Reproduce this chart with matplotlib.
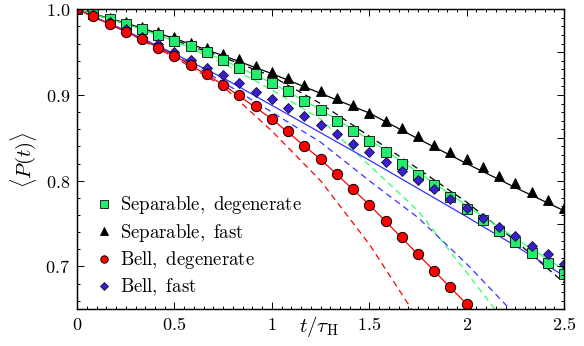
import numpy as np
import matplotlib
matplotlib.use("Agg")
import matplotlib.pyplot as plt
from matplotlib.ticker import MultipleLocator, FixedLocator, FixedFormatter

plt.rcParams["mathtext.fontset"] = "cm"
plt.rcParams["mathtext.rm"] = "serif"

# marker times t/tau_H = k/12
t_pts = np.arange(31) / 12.0

sep_deg = [1.000, 0.996, 0.989, 0.983, 0.977, 0.970, 0.963, 0.957, 0.950, 0.941,
           0.932, 0.924, 0.914, 0.905, 0.893, 0.882, 0.870, 0.858, 0.846, 0.833,
           0.820, 0.807, 0.795, 0.781, 0.767, 0.754, 0.741, 0.729, 0.716, 0.704, 0.691]
sep_fast = [1.000, 0.995, 0.990, 0.985, 0.979, 0.974, 0.968, 0.961, 0.955, 0.948,
            0.942, 0.934, 0.927, 0.920, 0.912, 0.905, 0.896, 0.888, 0.879, 0.870,
            0.862, 0.852, 0.842, 0.834, 0.825, 0.816, 0.806, 0.797, 0.787, 0.778, 0.768]
bell_deg = [1.000, 0.992, 0.983, 0.974, 0.965, 0.955, 0.946, 0.935, 0.924, 0.912,
            0.900, 0.887, 0.872, 0.858, 0.841, 0.825, 0.808, 0.790, 0.772, 0.753,
            0.734, 0.714, 0.695, 0.676, 0.656]
bell_fast = [1.000, 0.993, 0.985, 0.977, 0.968, 0.959, 0.950, 0.941, 0.932, 0.923,
             0.914, 0.904, 0.895, 0.885, 0.875, 0.865, 0.854, 0.843, 0.833, 0.822,
             0.811, 0.801, 0.790, 0.779, 0.768, 0.757, 0.746, 0.735, 0.724, 0.714, 0.703]

# theory curves (solid) read at nodes
t_line = [0.0, 0.25, 0.5, 0.75, 1.0, 1.25, 1.5, 1.75, 2.0, 2.25, 2.5]
sep_deg_line = [1.0, 0.983, 0.963, 0.941, 0.914, 0.883, 0.848, 0.810, 0.771, 0.733, 0.696]
sep_fast_line = [1.0, 0.984, 0.966, 0.946, 0.925, 0.902, 0.879, 0.849, 0.820, 0.792, 0.765]
bell_fast_line = [1.0, 0.975, 0.948, 0.920, 0.888, 0.856, 0.824, 0.791, 0.758, 0.724, 0.689]
t_bell_line = [0.0, 0.25, 0.5, 0.75, 1.0, 1.25, 1.5, 1.75, 2.0, 2.05]
bell_deg_line = [1.0, 0.974, 0.946, 0.912, 0.872, 0.825, 0.772, 0.714, 0.656, 0.644]

# approximate curves (dashed)
sep_fast_dash = [1.0, 0.983, 0.964, 0.944, 0.922, 0.890, 0.852, 0.814, 0.775, 0.730, 0.681]
t_sd_dash = [0.0, 0.25, 0.5, 0.75, 1.0, 1.25, 1.5, 1.75, 2.0, 2.145]
sep_deg_dash = [1.0, 0.984, 0.963, 0.937, 0.906, 0.872, 0.818, 0.765, 0.693, 0.650]
t_bf_dash = [0.0, 0.25, 0.5, 0.75, 1.0, 1.25, 1.5, 1.75, 2.0, 2.214]
bell_fast_dash = [1.0, 0.975, 0.947, 0.915, 0.880, 0.845, 0.800, 0.757, 0.703, 0.652]
t_bd_dash = [0.0, 0.25, 0.5, 0.75, 1.0, 1.25, 1.5, 1.717]
bell_deg_dash = [1.0, 0.974, 0.944, 0.910, 0.858, 0.800, 0.726, 0.650]

labels = ["Separable, degenerate", "Separable, fast", "Bell, degenerate", "Bell, fast"]
x_ticks = [0, 0.5, 1, 1.5, 2, 2.5]
x_ticklabels = ["0", "0.5", "1", "1.5", "2", "2.5"]
y_ticks = [0.7, 0.8, 0.9, 1.0]
y_ticklabels = ["0.7", "0.8", "0.9", "1.0"]


def rm(s):
    return r"$\mathrm{" + s.replace(" ", r"\ ") + "}$"


green_fill = "#22ee6e"
green_line = "#33ff66"
blue_fill = "#3a1ed2"
blue_line = "#3333ff"
red = "#ff0000"

fig = plt.figure(figsize=(5.84, 3.46), dpi=100)
ax = fig.add_axes([0.132, 0.106, 0.834, 0.867])

lw = 0.9
dash = (5, 3.5)
ax.plot(t_line, sep_fast_dash, color="black", lw=lw, dashes=dash)
ax.plot(t_sd_dash, sep_deg_dash, color=green_line, lw=lw, dashes=dash)
ax.plot(t_bf_dash, bell_fast_dash, color=blue_line, lw=lw, dashes=dash)
ax.plot(t_bd_dash, bell_deg_dash, color=red, lw=lw, dashes=dash)

ax.plot(t_line, sep_fast_line, color="black", lw=lw)
ax.plot(t_line, sep_deg_line, color=green_line, lw=lw)
ax.plot(t_line, bell_fast_line, color=blue_line, lw=lw)
ax.plot(t_bell_line, bell_deg_line, color=red, lw=lw)

ms = 7.4
h_sf, = ax.plot(t_pts, sep_fast, ls="none", marker="^", ms=ms, mfc="black",
                mec="black", mew=0.6, label=rm(labels[1]))
h_sd, = ax.plot(t_pts, sep_deg, ls="none", marker="s", ms=ms, mfc=green_fill,
                mec="#222222", mew=0.7, label=rm(labels[0]))
h_bf, = ax.plot(t_pts, bell_fast, ls="none", marker="D", ms=5.6, mfc=blue_fill,
                mec="#111133", mew=0.6, label=rm(labels[3]))
h_bd, = ax.plot(t_pts[:len(bell_deg)], bell_deg, ls="none", marker="o", ms=ms,
                mfc=red, mec="black", mew=0.7, label=rm(labels[2]))

ax.set_xlim(0, 2.5)
ax.set_ylim(0.65, 1.0)

ax.xaxis.set_major_locator(FixedLocator(x_ticks))
ax.xaxis.set_major_formatter(FixedFormatter([rm(s) for s in x_ticklabels]))
ax.xaxis.set_minor_locator(MultipleLocator(0.05))
ax.yaxis.set_major_locator(FixedLocator(y_ticks))
ax.yaxis.set_major_formatter(FixedFormatter([rm(s) for s in y_ticklabels]))
ax.yaxis.set_minor_locator(MultipleLocator(0.02))
ax.tick_params(which="both", direction="in", top=True, right=False,
               labelsize=13, width=0.7, pad=5)
ax.tick_params(which="major", length=5)
ax.tick_params(which="minor", length=2.5)

# right frame has finer ticks
ax2 = ax.twinx()
ax2.set_ylim(0.65, 1.0)
ax2.yaxis.set_major_locator(MultipleLocator(0.05))
ax2.yaxis.set_minor_locator(MultipleLocator(0.01))
ax2.tick_params(which="both", direction="in", labelright=False, width=0.7)
ax2.tick_params(which="major", length=5)
ax2.tick_params(which="minor", length=2.5)

for a in (ax, ax2):
    for s in a.spines.values():
        s.set_linewidth(0.9)

ax.set_ylabel(r"$\langle P(t)\rangle$", fontsize=15)
ax.yaxis.set_label_coords(-0.078, 0.5)
ax.set_xlabel(r"$t/\tau_{\mathrm{H}}$", fontsize=15)
ax.xaxis.set_label_coords(0.497, -0.015)

ax.legend(handles=[h_sd, h_sf, h_bd, h_bf], loc="lower left",
          bbox_to_anchor=(0.0, -0.025), frameon=False, fontsize=13.5,
          handlelength=0.9, handletextpad=0.4, labelspacing=0.3,
          markerscale=0.72, borderaxespad=0.6)

fig.savefig("out.png", dpi=100)
